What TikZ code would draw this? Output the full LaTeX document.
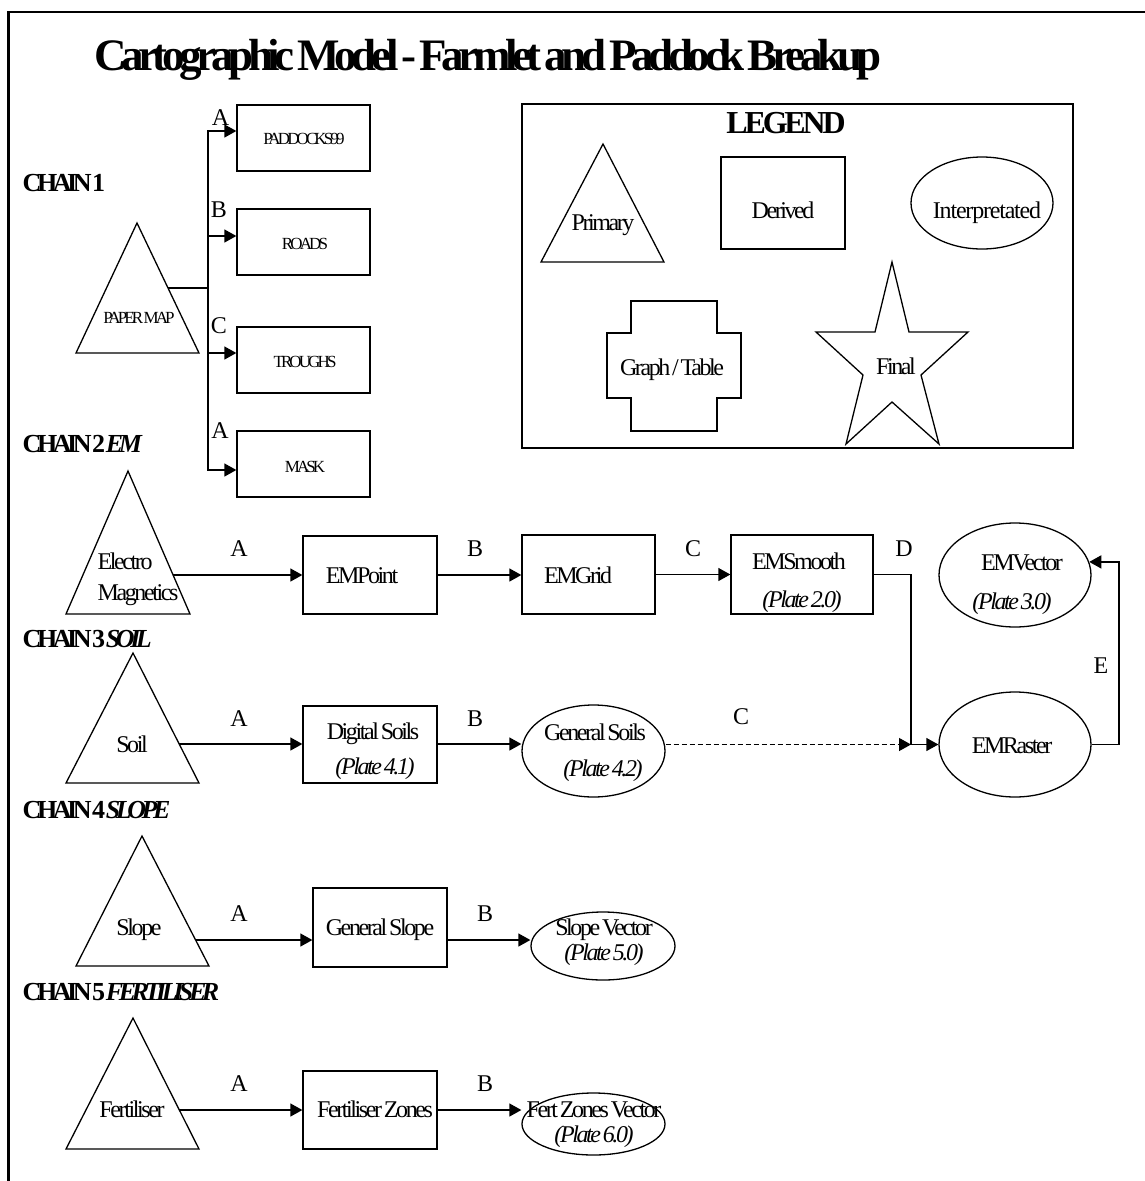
\documentclass[tikz,border=0pt]{standalone}
\usepackage{fontspec}
\setmainfont{Liberation Serif}[LetterSpace=-10,WordSpace=0.5]
\newfontfamily\smallfnt{Liberation Serif}[LetterSpace=-17,WordSpace=0.4]
\newfontfamily\chainfnt{Liberation Serif}[LetterSpace=-17,WordSpace=0.3]
\newfontfamily\titlefnt{Liberation Serif}[LetterSpace=-12,WordSpace=0.5]
\newfontfamily\widefnt{Liberation Serif}[LetterSpace=-5,WordSpace=0.5]
\usetikzlibrary{arrows.meta,shapes.geometric}
\begin{document}
\begin{tikzpicture}[x=1pt,y=-1pt,line width=1.3pt,
  arr/.style={-{Triangle[length=12pt,width=13pt]}},
  box/.style={draw,rectangle,inner sep=0pt},
  oval/.style={draw,ellipse,inner sep=0pt},
  txt/.style={anchor=base,inner sep=0pt,font=\fontsize{24}{28}\selectfont},
  itxt/.style={anchor=base,inner sep=0pt,font=\fontsize{24}{28}\selectfont\itshape},
  ltxt/.style={anchor=base west,inner sep=0pt,font=\fontsize{24}{28}\selectfont},
  stxt/.style={anchor=base,inner sep=0pt,font=\smallfnt\fontsize{17}{20}\selectfont},
  lettr/.style={anchor=base,inner sep=0pt,font=\fontsize{24}{28}\selectfont},
  chain/.style={anchor=base west,inner sep=0pt,font=\chainfnt\bfseries\fontsize{26}{30}\selectfont},
  edgeline/.style={line width=2.5pt}
]
\useasboundingbox (0,0) rectangle (1145,1181);
% frame
\draw[edgeline] (8.3,1181) -- (8.3,12) -- (1145,12);

% title
\node[anchor=base,inner sep=0pt,font=\titlefnt\bfseries\fontsize{45}{50}\selectfont] (title) at (488,70) {Cartographic Model - Farmlet and Paddock Breakup};

% ---------------- legend ----------------
\node[box,minimum width=551,minimum height=344] (legend) at (797.5,276) {};
\node[anchor=base,inner sep=0pt,font=\bfseries\fontsize{32}{36}\selectfont] (legtitle) at (786,133) {LEGEND};
\draw (603,144) -- (664,262) -- (541,262) -- cycle;
\node[txt] (lprim) at (603,230) {Primary};
\node[box,minimum width=124,minimum height=92] (lder) at (783,203) {};
\node[txt] (lderT) at (783,218) {Derived};
\node[oval,minimum width=142,minimum height=92] (lint) at (982,203) {};
\node[txt,font=\widefnt\fontsize{24}{28}\selectfont] (lintT) at (987,218) {Interpretated};
\draw (631,301) -- (717,301) -- (717,333) -- (741,333) -- (741,398) -- (717,398) -- (717,431)
  -- (631,431) -- (631,398) -- (607,398) -- (607,333) -- (631,333) -- cycle;
\node[txt] (lgraph) at (672,375) {Graph / Table};
\draw (892,262) -- (909,332) -- (968,332) -- (921,375) -- (939,444) -- (892,402)
  -- (846,444) -- (863,375) -- (816,332) -- (875,332) -- cycle;
\node[txt] (lfinal) at (896,374) {Final};

% ---------------- chain 1 ----------------
\node[chain] (c1) at (22,191) {CHAIN 1};
\draw (137,223) -- (199,353) -- (76,353) -- cycle;
\node[stxt] (pmT) at (139,323) {PAPER MAP};
\coordinate (pmR) at (168,288);
\coordinate (bus) at (208,288);
\node[box,minimum width=133,minimum height=66] (pad) at (303.5,138) {};
\node[box,minimum width=133,minimum height=66] (roads) at (303.5,242) {};
\node[box,minimum width=133,minimum height=66] (troughs) at (303.5,360) {};
\node[box,minimum width=133,minimum height=66] (mask) at (303.5,464) {};
\node[stxt] (padT) at (304,144) {PADDOCKS99};
\node[stxt] (roadsT) at (305,249) {ROADS};
\node[stxt] (troughsT) at (305,367) {TROUGHS};
\node[stxt] (maskT) at (305,472) {MASK};
\draw (pmR) -- (bus);
\draw[arr] (bus) |- ([yshift=7pt]pad.west);
\draw[arr] (bus) |- ([yshift=6pt]roads.west);
\draw[arr] (bus) |- ([yshift=7pt]troughs.west);
\draw[arr] (bus) |- ([yshift=-6pt]mask.west);
\node[lettr] (l1a) at (220.5,125) {A};
\node[lettr] (l1b) at (219,217) {B};
\node[lettr] (l1c) at (219,333) {C};
\node[lettr] (l1d) at (220,438) {A};

% ---------------- chain 2 ----------------
\node[chain] (c2) at (22,452) {CHAIN 2 \textit{EM}};
\draw (128,471) -- (190,614) -- (66,614) -- cycle;
\node[ltxt] (emT1) at (97,569) {Electro};
\node[ltxt] (emT2) at (97,600) {Magnetics};
\coordinate (emR) at (173,575);
\node[box,minimum width=134,minimum height=78] (empoint) at (370,575) {};
\node[box,minimum width=133,minimum height=79] (emgrid) at (588.5,574.5) {};
\node[box,minimum width=142,minimum height=79] (emsmooth) at (802,574.5) {};
\node[oval,minimum width=152,minimum height=104] (emvector) at (1015,575) {};
\node[oval,minimum width=152,minimum height=105] (emraster) at (1015,744.5) {};
\node[txt] (empointT) at (362,583) {EMPoint};
\node[txt] (emgridT) at (578,583) {EMGrid};
\node[txt] (emsmoothT) at (799,569) {EMSmooth};
\node[itxt] (emsmoothP) at (802,607) {(Plate 2.0)};
\node[txt] (emvectorT) at (1022,570) {EMVector};
\node[itxt] (emvectorP) at (1012,609) {(Plate 3.0)};
\node[txt] (emrasterT) at (1012,753) {EMRaster};
\draw[arr] (emR) -- (empoint.west |- emR);
\draw[arr] (empoint.east) -- (emgrid.west |- empoint.east);
\draw[arr] (emgrid.east) -- (emsmooth.west);
\coordinate (dj) at (911,744.5);
\draw[arr] (emsmooth.east) -| (dj) -- (emraster.west);
\coordinate (ec) at (1119,744.5);
\draw[arr] (emraster.east) -- (ec) |- (emvector.10);
\node[lettr] (l2a) at (239,556) {A};
\node[lettr] (l2b) at (475,556) {B};
\node[lettr] (l2c) at (693,556) {C};
\node[lettr] (l2d) at (904,556) {D};
\node[lettr] (l2e) at (1101,673) {E};

% ---------------- chain 3 ----------------
\node[chain] (c3) at (22,647) {CHAIN 3 \textit{SOIL}};
\draw (133,653) -- (199,783) -- (66,783) -- cycle;
\node[txt] (soilT) at (132,752) {Soil};
\coordinate (soilR) at (179,744);
\node[box,minimum width=134,minimum height=77] (digsoils) at (370,744.5) {};
\node[oval,minimum width=143,minimum height=92] (gensoils) at (593.5,751) {};
\node[txt] (digsoilsT) at (373,739) {Digital Soils};
\node[itxt] (digsoilsP) at (375,774) {(Plate 4.1)};
\node[txt] (gensoilsT) at (595,740) {General Soils};
\node[itxt] (gensoilsP) at (603,776) {(Plate 4.2)};
\draw[arr] (soilR) -- (digsoils.west |- soilR);
\draw[arr] (digsoils.east |- soilR) -- (gensoils.west |- soilR);
\draw[arr,dash pattern=on 5pt off 3pt] (gensoils.east |- dj) -- (dj);
\node[lettr] (l3a) at (239,726) {A};
\node[lettr] (l3b) at (475,726) {B};
\node[lettr] (l3c) at (741,724) {C};

% ---------------- chain 4 ----------------
\node[chain] (c4) at (22,818) {CHAIN 4 \textit{SLOPE}};
\draw (142,836) -- (209,966) -- (76,966) -- cycle;
\node[txt] (slopeT) at (139,935) {Slope};
\coordinate (slopeR) at (196,940);
\node[box,minimum width=134,minimum height=79] (gslope) at (380,927.5) {};
\node[oval,minimum width=144,minimum height=68] (svec) at (603,946) {};
\node[txt] (gslopeT) at (380,935) {General Slope};
\node[txt] (svecT) at (604,935) {Slope Vector};
\node[itxt] (svecP) at (604,960) {(Plate 5.0)};
\draw[arr] (slopeR) -- (gslope.west |- slopeR);
\draw[arr] (gslope.east |- slopeR) -- (svec.west |- slopeR);
\node[lettr] (l4a) at (239,921) {A};
\node[lettr] (l4b) at (485,921) {B};

% ---------------- chain 5 ----------------
\node[chain] (c5) at (22,1000) {CHAIN 5 \textit{FERTILISER}};
\draw (133,1018) -- (199,1149) -- (66,1149) -- cycle;
\node[txt] (fertT) at (132,1117) {Fertiliser};
\coordinate (fertR) at (179,1110);
\node[box,minimum width=134,minimum height=78] (fzones) at (370,1110) {};
\node[oval,minimum width=143,minimum height=62] (fzv) at (593.5,1124) {};
\node[txt] (fzonesT) at (375,1117) {Fertiliser Zones};
\node[txt] (fzvT) at (594,1117) {Fert Zones Vector};
\node[itxt] (fzvP) at (594,1142) {(Plate 6.0)};
\draw[arr] (fertR) -- (fzones.west);
\draw[arr] (fzones.east) -- (fzv.west |- fzones.east);
\node[lettr] (l5a) at (239,1091) {A};
\node[lettr] (l5b) at (485,1091) {B};
\end{tikzpicture}
\end{document}
